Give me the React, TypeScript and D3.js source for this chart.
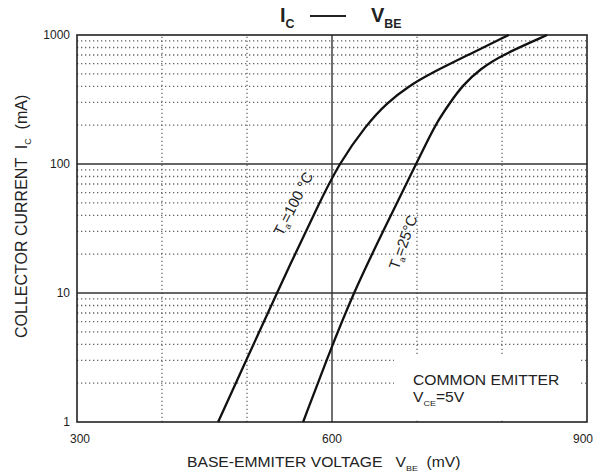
import React, { useEffect, useRef } from 'react';
import * as d3 from 'd3';

// Collector current (mA) vs base-emitter voltage (mV)
const curve100C: [number, number][] = [
  [466, 1], [500, 3.1], [535, 10], [585, 50], [608, 100],
  [640, 200], [665, 300], [690, 400], [715, 500], [760, 700], [808, 1000],
];
const curve25C: [number, number][] = [
  [566, 1], [595, 3.2], [625, 10], [662, 32], [699, 100], [712, 150],
  [725, 219], [739, 300], [754, 410], [775, 550], [800, 700], [853, 1000],
];

const xTicks = [300, 600, 900];
const yTicks = [1, 10, 100, 1000];
const xDotted = [400, 500, 700, 800];
const xSolid = [600];
const ySolid = [10, 100];
const yDotted = [1, 10, 100].flatMap(d => [2, 3, 4, 5, 6, 7, 8, 9].map(m => m * d));

const W = 597;
const H = 473;
const FONT = 'Liberation Sans, Arial, sans-serif';

export default function App() {
  const svgRef = useRef<SVGSVGElement>(null);

  useEffect(() => {
    const svg = d3.select(svgRef.current);
    svg.selectAll('*').remove();

    const x = d3.scaleLinear().domain([300, 900]).range([77, 587]);
    const y = d3.scaleLog().domain([1, 1000]).range([422, 35]);

    svg.append('rect').attr('width', W).attr('height', H).attr('fill', 'white');

    // dotted grid
    const grid = svg.append('g');
    grid.selectAll('line.hd').data(yDotted).enter().append('line')
      .attr('x1', x(300)).attr('x2', x(900))
      .attr('y1', d => y(d)).attr('y2', d => y(d))
      .attr('stroke', '#666').attr('stroke-width', 1.3)
      .attr('stroke-dasharray', '1.3,2.7');
    grid.selectAll('line.vd').data(xDotted).enter().append('line')
      .attr('x1', d => x(d)).attr('x2', d => x(d))
      .attr('y1', y(1)).attr('y2', y(1000))
      .attr('stroke', '#666').attr('stroke-width', 1.3)
      .attr('stroke-dasharray', '1.3,2.7');

    // white box behind note
    svg.append('rect')
      .attr('x', 394).attr('y', 356).attr('width', 185).attr('height', 62)
      .attr('fill', 'white');

    // solid grid
    grid.selectAll('line.hs').data(ySolid).enter().append('line')
      .attr('x1', x(300)).attr('x2', x(900))
      .attr('y1', d => y(d)).attr('y2', d => y(d))
      .attr('stroke', '#333').attr('stroke-width', 1.4);
    svg.selectAll('line.vs').data(xSolid).enter().append('line')
      .attr('x1', d => x(d)).attr('x2', d => x(d))
      .attr('y1', y(1)).attr('y2', y(1000))
      .attr('stroke', '#333').attr('stroke-width', 1.4);

    // frame
    svg.append('rect')
      .attr('x', x(300)).attr('y', y(1000))
      .attr('width', x(900) - x(300)).attr('height', y(1) - y(1000))
      .attr('fill', 'none').attr('stroke', '#222').attr('stroke-width', 1.6);

    // curves
    const line = d3.line<[number, number]>()
      .x(d => x(d[0])).y(d => y(d[1]))
      .curve(d3.curveBasis);
    [curve100C, curve25C].forEach(c => {
      svg.append('path').datum(c)
        .attr('d', line)
        .attr('fill', 'none').attr('stroke', '#111').attr('stroke-width', 2.3);
    });

    // tick labels
    svg.selectAll('text.yt').data(yTicks).enter().append('text')
      .attr('x', 70).attr('y', d => y(d) + 4)
      .attr('text-anchor', 'end')
      .attr('font-family', FONT).attr('font-size', 12).attr('fill', '#222')
      .text(d => d);
    svg.selectAll('text.xt').data(xTicks).enter().append('text')
      .attr('x', d => x(d) + (d === 300 ? 3 : d === 900 ? -4 : 0)).attr('y', 443)
      .attr('text-anchor', 'middle')
      .attr('font-family', FONT).attr('font-size', 12).attr('fill', '#222')
      .text(d => d);

    const sub = (t: d3.Selection<SVGTextElement, unknown, null, undefined>, main: string, s: string, size: number) => {
      t.append('tspan').text(main);
      t.append('tspan').attr('font-size', size * 0.62).attr('dy', size * 0.3).text(s);
    };

    // title
    const title = svg.append('g').attr('font-family', FONT).attr('fill', '#222').attr('font-weight', 'bold');
    const t1 = title.append('text').attr('x', 280).attr('y', 22).attr('font-size', 20);
    sub(t1, 'I', 'C', 20);
    title.append('line').attr('x1', 310).attr('x2', 346).attr('y1', 16).attr('y2', 16)
      .attr('stroke', '#222').attr('stroke-width', 1.8);
    const t2 = title.append('text').attr('x', 371).attr('y', 22).attr('font-size', 20);
    sub(t2, 'V', 'BE', 20);

    // x axis label
    const xl = svg.append('text')
      .attr('transform', 'translate(187,467) scale(1.12,1)')
      .attr('style', 'white-space: pre')
      .attr('font-family', FONT).attr('font-size', 14).attr('fill', '#222');
    xl.append('tspan').text('BASE-EMMITER VOLTAGE   V');
    xl.append('tspan').attr('font-size', 8).attr('dy', 4).text('BE');
    xl.append('tspan').attr('dy', -4).text('  (mV)');

    // y axis label
    const yl = svg.append('text')
      .attr('transform', 'translate(27,338) rotate(-90)')
      .attr('style', 'white-space: pre')
      .attr('font-family', FONT).attr('font-size', 16).attr('fill', '#222');
    yl.append('tspan').text('COLLECTOR CURRENT  I');
    yl.append('tspan').attr('font-size', 9).attr('dy', 4).text('C');
    yl.append('tspan').attr('dy', -4).text('  (mA)');

    // curve labels
    const lab = (cx: number, cy: number, ang: number, temp: string) => {
      const t = svg.append('text')
        .attr('transform', `translate(${cx},${cy}) rotate(${ang})`)
        .attr('text-anchor', 'middle')
        .attr('style', 'white-space: pre')
        .attr('font-family', FONT).attr('font-size', 15).attr('fill', '#222');
      t.append('tspan').text('T');
      t.append('tspan').attr('font-size', 9).attr('dy', 3).text('a');
      t.append('tspan').attr('dy', -3).text(temp);
    };
    lab(298, 206, -63, '=100 °C');
    lab(408, 244, -70, '=25°C');

    // note
    const note = svg.append('g').attr('font-family', FONT).attr('font-size', 14).attr('fill', '#222');
    note.append('text').attr('transform', 'translate(413,385) scale(1.12,1)').text('COMMON EMITTER');
    const n2 = note.append('text').attr('transform', 'translate(413,402) scale(1.12,1)');
    n2.append('tspan').text('V');
    n2.append('tspan').attr('font-size', 8).attr('dy', 4).text('CE');
    n2.append('tspan').attr('dy', -4).text('=5V');
  }, []);

  return (
    <svg ref={svgRef} width={W} height={H}
      style={{ position: 'absolute', left: 0, top: 0, display: 'block' }} />
  );
}
